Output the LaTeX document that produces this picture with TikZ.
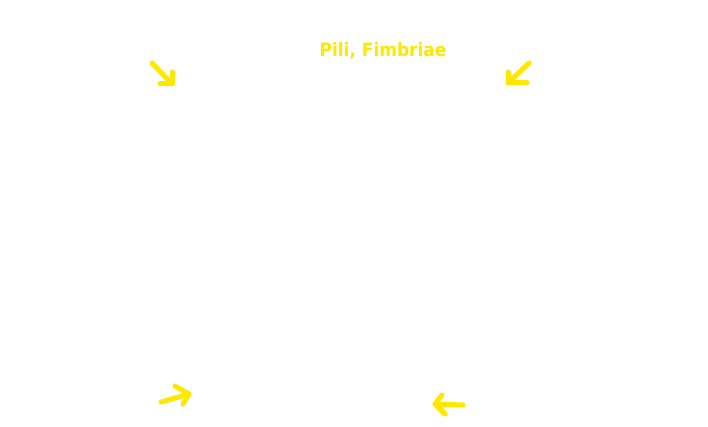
\documentclass[tikz,border=0pt]{standalone}
\usepackage{fontspec}
\newfontfamily\labelfont{DejaVu Sans}
\definecolor{piliyellow}{RGB}{255,232,0}
\begin{document}
\begin{tikzpicture}[x=1pt,y=1pt,
  handarrow/.style={draw=piliyellow,line width=5pt,line cap=round,line join=round},
  labeltext/.style={text=piliyellow,font=\labelfont\bfseries\fontsize{17}{20}\selectfont,inner sep=0pt}]
\useasboundingbox[fill=white] (0,0) rectangle (708,426);
\node[labeltext,anchor=base,yscale=1.08] (title) at (383,369) {Pili, Fimbriae};
% arrow top-left
\coordinate (a1s) at (152,363);
\coordinate (a1t) at (172,342);
\draw[handarrow] (a1s) -- (a1t);
\draw[handarrow] (172,354) -- (a1t) -- (160,342);
% arrow top-right
\coordinate (a2s) at (529,363);
\coordinate (a2t) at (508,343);
\draw[handarrow] (a2s) -- (a2t);
\draw[handarrow] (508,354) -- (a2t) -- (527,343);
% arrow bottom-left
\coordinate (a3s) at (161,24);
\coordinate (a3t) at (189,32);
\draw[handarrow] (a3s) -- (a3t);
\draw[handarrow] (175,40) -- (a3t) -- (183,22);
% arrow bottom-right
\coordinate (a4s) at (463,21);
\coordinate (a4t) at (435,22);
\draw[handarrow] (a4s) -- (a4t);
\draw[handarrow] (442,31) -- (a4t) -- (445,12);
\end{tikzpicture}
\end{document}
